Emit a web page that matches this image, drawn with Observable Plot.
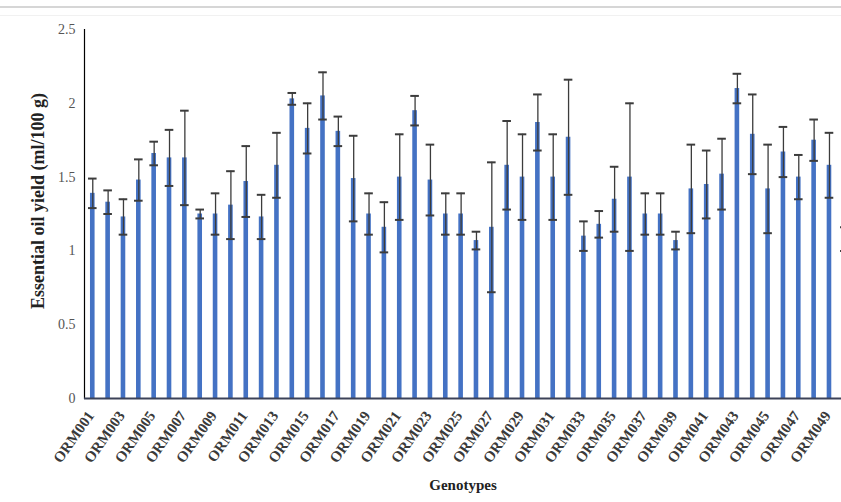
<!DOCTYPE html>
<html>
<head>
<meta charset="utf-8">
<script src="https://cdn.jsdelivr.net/npm/d3@7"></script>
<script src="https://cdn.jsdelivr.net/npm/@observablehq/plot@0.6"></script>
<style>
  html, body { margin: 0; padding: 0; background: #fff; }
  #wrap { position: relative; width: 841px; height: 502px; overflow: hidden; }
  #topline { position: absolute; left: 0; top: 6px; width: 841px; height: 2px; background: #d6d6d6; }
  #topline2 { position: absolute; left: 0; top: 15px; width: 841px; height: 1px; background: #f1f1f1; }
</style>
</head>
<body>
<div id="wrap"><div id="topline"></div><div id="topline2"></div></div>
<script>
const genotypes = ["ORM001","ORM002","ORM003","ORM004","ORM005","ORM006","ORM007","ORM008","ORM009","ORM010",
  "ORM011","ORM012","ORM013","ORM014","ORM015","ORM016","ORM017","ORM018","ORM019","ORM020",
  "ORM021","ORM022","ORM023","ORM024","ORM025","ORM026","ORM027","ORM028","ORM029","ORM030",
  "ORM031","ORM032","ORM033","ORM034","ORM035","ORM036","ORM037","ORM038","ORM039","ORM040",
  "ORM041","ORM042","ORM043","ORM044","ORM045","ORM046","ORM047","ORM048","ORM049","ORM050"];
const means = [1.39,1.33,1.23,1.48,1.66,1.63,1.63,1.25,1.25,1.31,
  1.47,1.23,1.58,2.03,1.83,2.05,1.81,1.49,1.25,1.16,
  1.50,1.95,1.48,1.25,1.25,1.07,1.16,1.58,1.50,1.87,
  1.50,1.77,1.10,1.18,1.35,1.50,1.25,1.25,1.07,1.42,
  1.45,1.52,2.10,1.79,1.42,1.67,1.50,1.75,1.58,1.08];
const errors = [0.10,0.08,0.12,0.14,0.08,0.19,0.32,0.03,0.14,0.23,
  0.24,0.15,0.22,0.04,0.17,0.16,0.10,0.29,0.14,0.17,
  0.29,0.10,0.24,0.14,0.14,0.06,0.44,0.30,0.29,0.19,
  0.29,0.39,0.10,0.09,0.22,0.50,0.14,0.14,0.06,0.30,
  0.23,0.24,0.10,0.27,0.30,0.17,0.15,0.14,0.22,0.08];
const tickLabels = ["ORM001","ORM003","ORM005","ORM007","ORM009","ORM011","ORM013","ORM015","ORM017",
  "ORM019","ORM021","ORM023","ORM025","ORM027","ORM029","ORM031","ORM033","ORM035","ORM037",
  "ORM039","ORM041","ORM043","ORM045","ORM047","ORM049"];
const yTicks = [0, 0.5, 1, 1.5, 2, 2.5];
const yTitle = "Essential oil yield (ml/100 g)";
const xTitle = "Genotypes";

const data = genotypes.map((g, i) => ({g, m: means[i], e: errors[i]}));
const errColor = "#3c3c3c";

const chart = Plot.plot({
  width: 841,
  height: 502,
  marginLeft: 84,
  marginRight: 0,
  marginTop: 29,
  marginBottom: 104,
  style: {fontFamily: "'Liberation Serif', serif", background: "transparent"},
  x: {domain: genotypes, range: [84.6, 852], round: false, paddingInner: 0.7, paddingOuter: 0.35, axis: null},
  y: {domain: [0, 2.5], axis: null},
  marks: [
    Plot.barY(data, {x: "g", y: "m", fill: "#4472c4"}),
    Plot.ruleX(data, {x: "g", y1: d => d.m - d.e, y2: d => d.m + d.e, stroke: errColor, strokeWidth: 1.3}),
    Plot.tickY(data, {x: "g", y: d => d.m + d.e, stroke: errColor, strokeWidth: 2, insetLeft: -2, insetRight: -2}),
    Plot.tickY(data, {x: "g", y: d => d.m - d.e, stroke: errColor, strokeWidth: 2, insetLeft: -2, insetRight: -2}),
    Plot.frame({anchor: "left", stroke: "#000", strokeWidth: 1.2}),
    Plot.ruleY([0], {stroke: "#3c4258", strokeWidth: 2}),
    Plot.axisY({ticks: yTicks, tickSize: 0, tickPadding: 9, fontSize: 14, tickFormat: d => String(d), label: null, color: "#555"}),
    Plot.text(tickLabels, {x: d => d, frameAnchor: "bottom", dy: 17, dx: 2, rotate: -55, textAnchor: "end", fontSize: 15, fontWeight: "bold", fill: "#3a3a3a"}),
    Plot.text([yTitle], {frameAnchor: "left", dx: -46, dy: -13, rotate: -90, textAnchor: "middle", fontWeight: "bold", fontSize: 18, fill: "#222"}),
    Plot.text([xTitle], {frameAnchor: "bottom", dy: 91, fontWeight: "bold", fontSize: 15, fill: "#222"})
  ]
});
chart.style.position = "absolute";
chart.style.left = "0";
chart.style.top = "0";
document.getElementById("wrap").appendChild(chart);
</script>
</body>
</html>
